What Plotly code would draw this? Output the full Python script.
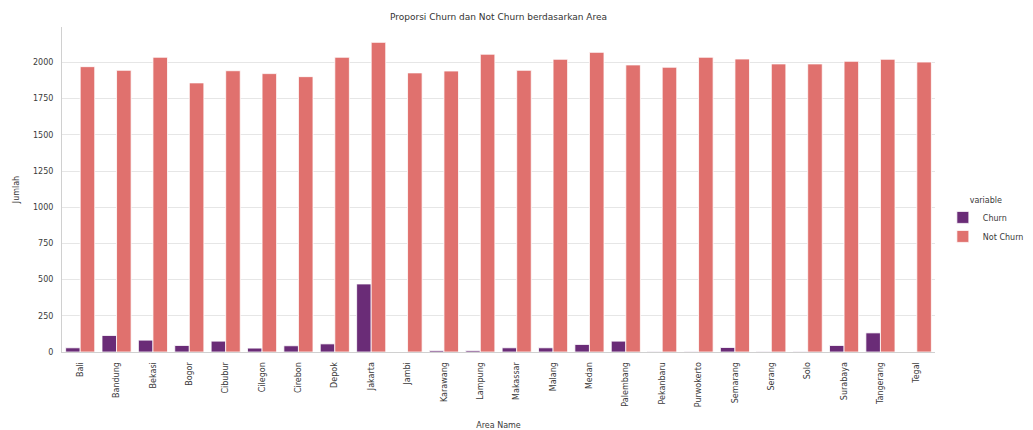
import plotly.graph_objects as go

areas = ["Bali", "Bandung", "Bekasi", "Bogor", "Cibubur", "Cilegon", "Cirebon", "Depok",
         "Jakarta", "Jambi", "Karawang", "Lampung", "Makassar", "Malang", "Medan",
         "Palembang", "Pekanbaru", "Purwokerto", "Semarang", "Serang", "Solo",
         "Surabaya", "Tangerang", "Tegal"]
churn = [29, 114, 82, 45, 75, 27, 43, 56, 470, 0, 10, 10, 29, 29, 52, 75, 3, 3, 31, 3, 3, 45, 132, 0]
not_churn = [1971, 1946, 2036, 1859, 1943, 1923, 1902, 2036, 2139, 1928, 1941, 2057,
             1946, 2022, 2070, 1983, 1967, 2036, 2024, 1990, 1990, 2008, 2022, 2003]
series_names = ["Churn", "Not Churn"]
y_ticks = [0, 250, 500, 750, 1000, 1250, 1500, 1750, 2000]

FONT = "DejaVu Sans, sans-serif"
colors = ["#6A2C77", "#E0716E"]

fig = go.Figure()
for name, vals, col in zip(series_names, [churn, not_churn], colors):
    fig.add_trace(go.Bar(
        x=areas, y=vals, name=name,
        marker=dict(color=col, line=dict(color="white", width=0.8)),
    ))

fig.update_layout(
    width=1033, height=430,
    barmode="group", bargap=0.2, bargroupgap=0,
    plot_bgcolor="white", paper_bgcolor="white",
    margin=dict(l=62, r=98, t=27, b=78, autoexpand=False),
    font=dict(family=FONT, size=8, color="#3a3a3a"),
    title=dict(text="Proporsi Churn dan Not Churn berdasarkan Area",
               x=(62 + 935) / 2 / 1033, xanchor="center", y=1 - 17 / 430, yanchor="middle",
               font=dict(size=9, color="#333333")),
    legend=dict(title=dict(text="variable", side="top center", font=dict(size=8)),
                x=1.009, xanchor="left", y=0.40, yanchor="middle",
                font=dict(size=8), bgcolor="rgba(0,0,0,0)",
                itemwidth=30, tracegroupgap=0),
    showlegend=True,
)
fig.update_xaxes(
    range=[-0.5, 23.5], showgrid=False, tickangle=-90,
    showline=True, linecolor="#d0d0d0", linewidth=1,
    ticks="", ticklabelstandoff=6,
    tickfont=dict(size=8, color="#3a3a3a"),
    title=dict(text="Area Name", font=dict(size=8, color="#3a3a3a"), standoff=18),
    automargin=False,
)
fig.update_yaxes(
    range=[0, 2245], tickvals=y_ticks, ticktext=[str(v) for v in y_ticks],
    showgrid=True, gridcolor="#e6e6e6", gridwidth=1, zeroline=False,
    showline=True, linecolor="#d0d0d0", linewidth=1,
    ticks="", ticklabelstandoff=6,
    tickfont=dict(size=8, color="#3a3a3a"),
    title=dict(text="Jumlah", font=dict(size=8, color="#3a3a3a"), standoff=12),
    automargin=False,
)

fig.write_html("out.html",
               config={"displayModeBar": False},
               post_script="document.body.style.margin='0';document.body.style.overflow='hidden';")
